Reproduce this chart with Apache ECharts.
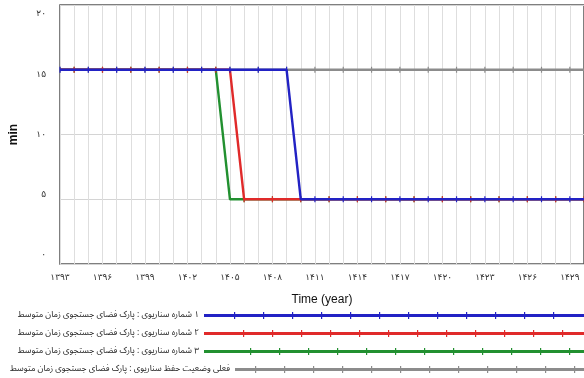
<!DOCTYPE html>
<html>
<head>
<meta charset="utf-8">
<script src="https://cdn.jsdelivr.net/npm/echarts@6/dist/echarts.min.js"></script>
<style>html,body{margin:0;padding:0;background:#fff}#c{width:584px;height:378px}</style>
</head>
<body>
<div id="c"></div>
<script>
// ---- data ----
var years = ['۱۳۹۳','۱۳۹۴','۱۳۹۵','۱۳۹۶','۱۳۹۷','۱۳۹۸','۱۳۹۹','۱۴۰۰','۱۴۰۱','۱۴۰۲','۱۴۰۳','۱۴۰۴','۱۴۰۵','۱۴۰۶','۱۴۰۷','۱۴۰۸','۱۴۰۹','۱۴۱۰','۱۴۱۱','۱۴۱۲','۱۴۱۳','۱۴۱۴','۱۴۱۵','۱۴۱۶','۱۴۱۷','۱۴۱۸','۱۴۱۹','۱۴۲۰','۱۴۲۱','۱۴۲۲','۱۴۲۳','۱۴۲۴','۱۴۲۵','۱۴۲۶','۱۴۲۷','۱۴۲۸','۱۴۲۹','۱۴۳۰'];
var scenario1 = [15,15,15,15,15,15,15,15,15,15,15,15,15,15,15,15,15,5,5,5,5,5,5,5,5,5,5,5,5,5,5,5,5,5,5,5,5,5];
var scenario2 = [15,15,15,15,15,15,15,15,15,15,15,15,15,5,5,5,5,5,5,5,5,5,5,5,5,5,5,5,5,5,5,5,5,5,5,5,5,5];
var scenario3 = [15,15,15,15,15,15,15,15,15,15,15,15,5,5,5,5,5,5,5,5,5,5,5,5,5,5,5,5,5,5,5,5,5,5,5,5,5,5];
var baseline  = [15,15,15,15,15,15,15,15,15,15,15,15,15,15,15,15,15,15,15,15,15,15,15,15,15,15,15,15,15,15,15,15,15,15,15,15,15,15];
var yTickValues = [0,5,10,15,20];
var yTickLabels = ['۰','۵','۱۰','۱۵','۲۰'];
var names = [
  'متوسط زمان جستجوی فضای پارک : سناریوی شماره ۱',
  'متوسط زمان جستجوی فضای پارک : سناریوی شماره ۲',
  'متوسط زمان جستجوی فضای پارک : سناریوی شماره ۳',
  'متوسط زمان جستجوی فضای پارک : سناریوی حفظ وضعیت فعلی'
];
var colors = ['#2222c4','#e02a2a','#229030','#8c8c8c'];

function legendPath(w, h, first, step){
  var p = 'M0,' + (h/2-1.5) + 'h' + w + 'v3h-' + w + 'z';
  for (var x = first; x < w - 2; x += step) p += 'M' + x + ',0h1.2v' + h + 'h-1.2z';
  return 'path://' + p;
}
function tickSize(phase){
  return function(v, params){ return params.dataIndex % 2 === phase ? [1.2, 6] : 0; };
}
function mkSeries(name, data, color, phase, z){
  return {
    name: name, type: 'line', data: data, z: z,
    symbol: 'rect', symbolSize: tickSize(phase), showSymbol: true, showAllSymbol: true,
    lineStyle: {color: color, width: 2.4}, itemStyle: {color: color},
    emphasis: {disabled: true}
  };
}
var FS = 8.5, FF = '"Noto Sans Arabic", "DejaVu Sans", sans-serif';
function mkLegend(name, top, w, first){
  return {
    data: [name], right: 0, top: top, padding: 0, align: 'right', selectedMode: false,
    itemWidth: w, itemHeight: 7, icon: legendPath(w, 7, first, 29),
    formatter: function(n){ return n.split(' ').map(function(t){ return '{w|' + t + '}'; }).join('{w| }'); },
    textStyle: {fontSize: FS, fontFamily: FF, color: '#222',
      rich: {w: {fontSize: FS, fontFamily: FF, color: '#222'}}}
  };
}

var chart = echarts.init(document.getElementById('c'), null, {renderer: 'canvas'});
chart.setOption({
  animation: false,
  grid: {left: 55, right: -2, top: 5, bottom: 114, show: true, borderColor: '#555', borderWidth: 1.5, backgroundColor: 'transparent'},
  xAxis: {
    type: 'category', data: years, boundaryGap: false,
    name: 'Time (year)', nameLocation: 'middle', nameGap: 30,
    nameTextStyle: {fontFamily: 'Liberation Sans', fontSize: 12, color: '#111'},
    axisLine: {show: false}, axisTick: {show: false},
    axisLabel: {interval: 2, margin: 9, fontSize: 9, fontFamily: 'DejaVu Sans', color: '#333'},
    splitLine: {show: true, interval: 0, lineStyle: {color: '#dedede', width: 1}}
  },
  yAxis: [{
    type: 'value', min: 0, max: 20, interval: 5,
    name: 'min', nameLocation: 'middle', nameGap: 40, nameRotate: 90,
    nameTextStyle: {fontFamily: 'Liberation Sans', fontSize: 12, fontWeight: 'bold', color: '#111'},
    axisLine: {show: false}, axisTick: {show: false}, axisLabel: {show: false},
    splitLine: {lineStyle: {color: '#d4d4d4', width: 1}}
  }, {
    type: 'value', position: 'left', min: -0.744, max: 20.744,
    axisLine: {show: false}, axisTick: {show: false}, splitLine: {show: false},
    axisLabel: {
      customValues: yTickValues, margin: 14, fontSize: 9, fontFamily: 'DejaVu Sans', color: '#333',
      formatter: function(v){ var i = yTickValues.indexOf(Math.round(v)); return i >= 0 ? yTickLabels[i] : ''; }
    }
  }],
  legend: [
    mkLegend(names[0], 311, 380, 30),
    mkLegend(names[1], 329, 380, 39),
    mkLegend(names[2], 347, 380, 46),
    mkLegend(names[3], 365, 349, 20)
  ],
  series: [
    mkSeries(names[3], baseline, colors[3], 0, 2),
    mkSeries(names[2], scenario3, colors[2], 1, 3),
    mkSeries(names[1], scenario2, colors[1], 1, 4),
    mkSeries(names[0], scenario1, colors[0], 0, 5)
  ]
});
</script>
</body>
</html>
